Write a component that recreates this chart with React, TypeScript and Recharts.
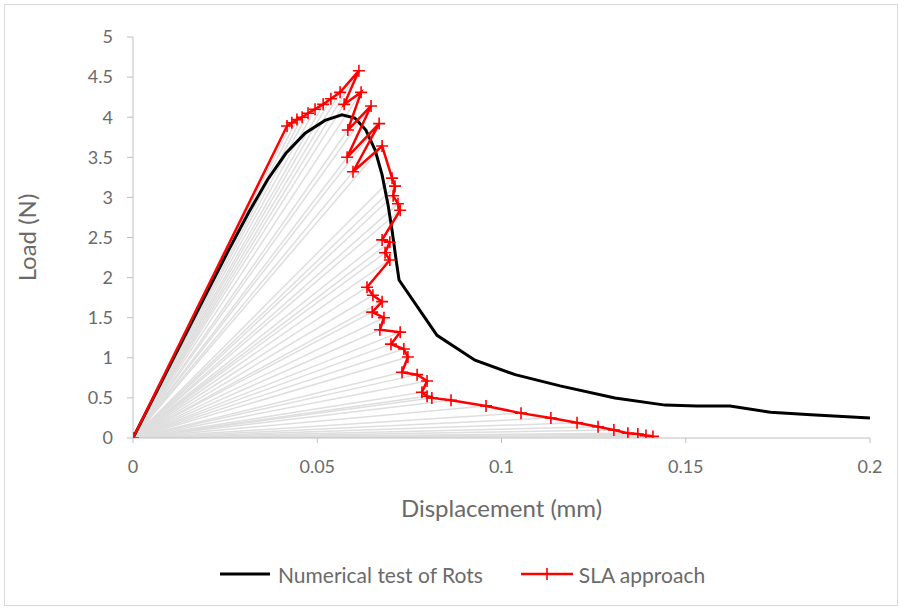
import { Line, LineChart, XAxis, YAxis } from "recharts"

// SLA approach (red, with + markers)
const slaDisp = [
    0, 0.0418, 0.0431, 0.0445, 0.0459, 0.0475, 0.0494, 0.0516, 0.0537, 0.0562, 0.0613, 0.0573, 0.0619, 0.0583,
    0.0646, 0.0581, 0.0668, 0.0597, 0.0676, 0.0703, 0.0711, 0.0706, 0.0719, 0.0725, 0.0676, 0.0697, 0.0684,
    0.0697, 0.0635, 0.0651, 0.0676, 0.0649, 0.0681, 0.067, 0.0725, 0.07, 0.0735, 0.0746, 0.073, 0.0771, 0.0798,
    0.0784, 0.0798, 0.0811, 0.0863, 0.0958, 0.1053, 0.1134, 0.1205, 0.1262, 0.1305, 0.1343, 0.137, 0.1392, 0.1411,
]
const slaLoad = [
    0, 3.89, 3.93, 3.97, 4.0, 4.05, 4.1, 4.16, 4.23, 4.31, 4.58, 4.16, 4.31, 3.84, 4.14, 3.5, 3.92, 3.32, 3.64,
    3.24, 3.14, 3.02, 2.92, 2.84, 2.47, 2.44, 2.31, 2.22, 1.88, 1.78, 1.7, 1.57, 1.5, 1.35, 1.32, 1.17, 1.11, 1.01,
    0.82, 0.79, 0.71, 0.57, 0.52, 0.5, 0.47, 0.4, 0.31, 0.25, 0.19, 0.14, 0.1, 0.06, 0.05, 0.03, 0.02,
]

// Numerical test of Rots (black)
const rotsDisp = [
    0, 0.0105, 0.0188, 0.0258, 0.0315, 0.0365, 0.0415, 0.0467, 0.0521, 0.0567, 0.0602, 0.0632, 0.0657, 0.0676,
    0.0692, 0.0703, 0.0714, 0.0722, 0.0825, 0.0928, 0.1037, 0.1159, 0.1308, 0.1444, 0.153, 0.162, 0.173, 0.184, 0.2,
]
const rotsLoad = [
    0, 0.95, 1.7, 2.33, 2.82, 3.22, 3.55, 3.8, 3.96, 4.03, 3.99, 3.84, 3.59, 3.28, 2.91, 2.59, 2.22, 1.97, 1.28,
    0.97, 0.79, 0.65, 0.5, 0.41, 0.4, 0.4, 0.32, 0.29, 0.25,
]

const xTicks = [0, 0.05, 0.1, 0.15, 0.2]
const yTicks = [0, 0.5, 1, 1.5, 2, 2.5, 3, 3.5, 4, 4.5, 5]

const sla = slaDisp.map((x, i) => ({ x, y: slaLoad[i] }))
const rots = rotsDisp.map((x, i) => ({ x, y: rotsLoad[i] }))
const fans = sla.slice(1).map((p) => [{ x: 0, y: 0 }, p])

const font = "Lato, 'Open Sans', sans-serif"
const textGrey = "#6a6a6a"

const PlusDot = (props: any) => {
    const { cx, cy, index } = props
    if (cx == null || cy == null) return null
    return (
        <path
            key={`plus-${index}`}
            d={`M${cx - 6},${cy}h12M${cx},${cy - 6}v12`}
            stroke="#ff0000"
            strokeWidth={1.6}
            fill="none"
        />
    )
}

export default function App() {
    return (
        <div
            style={{
                position: "absolute",
                left: 0,
                top: 0,
                width: 904,
                height: 610,
                background: "#fff",
                fontFamily: font,
            }}
        >
            <div
                style={{
                    position: "absolute",
                    left: 4,
                    top: 4,
                    width: 892,
                    height: 600,
                    border: "1px solid #d9d9d9",
                }}
            />
            <LineChart width={904} height={610} margin={{ top: 37, right: 34, bottom: 92, left: 15 }}>
                <XAxis
                    dataKey="x"
                    type="number"
                    domain={[0, 0.2]}
                    ticks={xTicks}
                    allowDataOverflow
                    stroke="#bfbfbf"
                    tick={{ fill: textGrey, fontSize: 18, fontFamily: font }}
                    tickSize={5}
                    tickMargin={17}
                    height={80}
                    label={{
                        value: "Displacement (mm)",
                        position: "insideBottom",
                        offset: 1,
                        fill: textGrey,
                        fontSize: 24,
                        fontFamily: font,
                    }}
                />
                <YAxis
                    dataKey="y"
                    type="number"
                    domain={[0, 5]}
                    ticks={yTicks}
                    allowDataOverflow
                    stroke="#bfbfbf"
                    tick={{ fill: textGrey, fontSize: 18, fontFamily: font }}
                    tickSize={6}
                    tickMargin={14}
                    width={118}
                    label={{
                        value: "Load (N)",
                        angle: -90,
                        position: "insideLeft",
                        offset: 12,
                        fill: textGrey,
                        fontSize: 24,
                        fontFamily: font,
                        style: { textAnchor: "middle" },
                    }}
                />
                {fans.map((d, i) => (
                    <Line
                        key={`fan-${i}`}
                        data={d}
                        dataKey="y"
                        stroke="#dedede"
                        strokeWidth={1.5}
                        dot={false}
                        legendType="none"
                        isAnimationActive={false}
                    />
                ))}
                <Line
                    data={rots}
                    dataKey="y"
                    name="Numerical test of Rots"
                    stroke="#000"
                    strokeWidth={3}
                    dot={false}
                    isAnimationActive={false}
                />
                <Line
                    data={sla}
                    dataKey="y"
                    name="SLA approach"
                    stroke="#ff0000"
                    strokeWidth={2.5}
                    dot={PlusDot}
                    isAnimationActive={false}
                />
            </LineChart>
            <div
                style={{
                    position: "absolute",
                    top: 561,
                    left: 220,
                    display: "flex",
                    alignItems: "center",
                    fontSize: 21,
                    color: textGrey,
                    whiteSpace: "nowrap",
                }}
            >
                <svg width={52} height={26}>
                    <line x1={0} y1={13} x2={50} y2={13} stroke="#000" strokeWidth={3} />
                </svg>
                <span style={{ marginLeft: 6 }}>Numerical test of Rots</span>
                <svg width={56} height={26} style={{ marginLeft: 36 }}>
                    <line x1={2} y1={13} x2={54} y2={13} stroke="#ff0000" strokeWidth={2.5} />
                    <path d="M22,13h12M28,7v12" stroke="#ff0000" strokeWidth={1.6} />
                </svg>
                <span style={{ marginLeft: 4 }}>SLA approach</span>
            </div>
        </div>
    )
}
